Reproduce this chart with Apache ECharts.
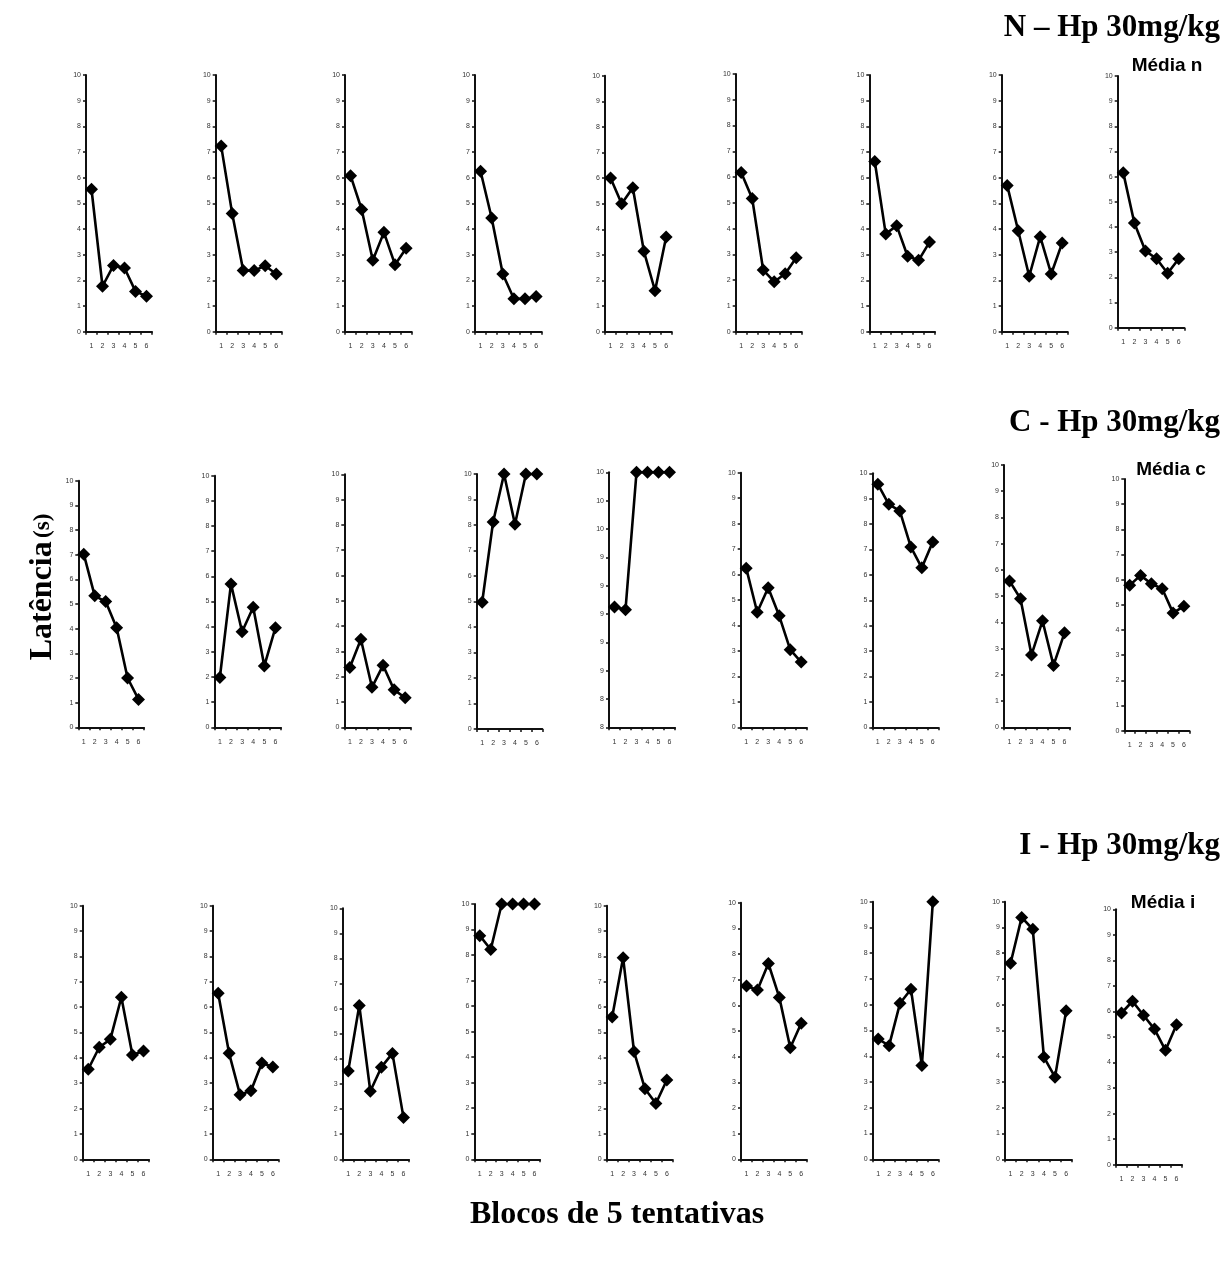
<!DOCTYPE html>
<html>
<head>
<meta charset="utf-8">
<title>Latência - Hp 30mg/kg</title>
<script src="https://cdn.jsdelivr.net/npm/echarts@6/dist/echarts.min.js"></script>
<style>
  html, body { margin: 0; padding: 0; background: #fff; }
  #main { width: 1232px; height: 1262px; }
</style>
</head>
<body>
<div id="main"></div>
<script>
// blocos de 5 tentativas
var blocks = ['1', '2', '3', '4', '5', '6'];

// N - Hp 30mg/kg (8 animais + média)
var nData = [
    [5.55, 1.77, 2.58, 2.48, 1.57, 1.38],
    [7.23, 4.60, 2.38, 2.38, 2.57, 2.25],
    [6.08, 4.76, 2.78, 3.87, 2.61, 3.25],
    [6.25, 4.43, 2.25, 1.28, 1.28, 1.37],
    [6.00, 5.00, 5.62, 3.14, 1.60, 3.70],
    [6.18, 5.17, 2.39, 1.94, 2.25, 2.87],
    [6.63, 3.81, 4.13, 2.94, 2.78, 3.49],
    [5.70, 3.93, 2.16, 3.70, 2.25, 3.46],
    [6.16, 4.16, 3.05, 2.74, 2.16, 2.74]
];

// C - Hp 30mg/kg
var cData = [
    [7.02, 5.33, 5.10, 4.04, 2.00, 1.13],
    [1.98, 5.70, 3.80, 4.77, 2.44, 3.96],
    [2.36, 3.48, 1.58, 2.45, 1.48, 1.17],
    [4.97, 8.12, 10, 8.03, 10, 10],
    [9.05, 9.03, 10, 10, 10, 10],
    [6.25, 4.52, 5.48, 4.38, 3.05, 2.56],
    [9.57, 8.78, 8.52, 7.10, 6.28, 7.30],
    [5.58, 4.90, 2.76, 4.06, 2.36, 3.60],
    [5.78, 6.17, 5.84, 5.64, 4.68, 4.94]
];

// I - Hp 30mg/kg
var iData = [
    [3.55, 4.42, 4.73, 6.39, 4.11, 4.27],
    [6.55, 4.18, 2.55, 2.70, 3.80, 3.64],
    [3.52, 6.13, 2.71, 3.67, 4.22, 1.67],
    [8.76, 8.22, 10, 10, 10, 10],
    [5.61, 7.95, 4.25, 2.78, 2.20, 3.13],
    [6.75, 6.60, 7.63, 6.31, 4.35, 5.30],
    [4.67, 4.41, 6.06, 6.60, 3.64, 10],
    [7.61, 9.39, 8.93, 3.97, 3.19, 5.77],
    [5.94, 6.40, 5.85, 5.31, 4.48, 5.48]
];

// y range of each panel (one panel in row C starts at 8.2)
var yMinC = [0, 0, 0, 0, 8.2, 0, 0, 0, 0];

// panel boxes: [left, top, right, bottom] in px
var frames = [
    [86, 75, 152, 331.7], [215.7, 75, 281.7, 331.7], [345, 75, 411.7, 331.7],
    [475, 75, 541.7, 331.7], [605, 75.7, 671.7, 331.7], [735.7, 74, 801.7, 331.7],
    [869.3, 75, 935, 331.7], [1001.7, 75, 1067.7, 331.7], [1117.7, 76, 1184.3, 327.7],

    [78.3, 480.7, 144, 727.3], [214.3, 475.7, 281, 727.3], [344.3, 474.3, 410.7, 727.3],
    [476.7, 474, 542.3, 729], [609, 472.3, 675, 727.3], [740.7, 472.7, 806.7, 727.3],
    [872.3, 473.3, 938.3, 727.3], [1004, 465, 1070, 727.3], [1124.3, 479, 1189.3, 730.7],

    [82.7, 905.7, 149, 1159.3], [212.7, 905.7, 278.3, 1159.3], [342.7, 908.3, 409, 1159.3],
    [474.3, 904, 540, 1159.3], [606.7, 905.7, 672.3, 1159.3], [741, 902.7, 806.7, 1159.3],
    [872.7, 901.7, 938.3, 1159.3], [1005, 901.7, 1071.7, 1159.3], [1116, 909.3, 1182, 1164.7]
];

var allData = nData.concat(cData, iData);

var grids = [], xAxes = [], yAxes = [], series = [];
allData.forEach(function (vals, k) {
    var f = frames[k];
    var ymin = (k >= 9 && k < 18) ? yMinC[k - 9] : 0;
    grids.push({
        left: f[0], top: f[1], width: f[2] - f[0], height: f[3] - f[1],
        outerBoundsMode: 'none', containLabel: false
    });
    xAxes.push({
        type: 'category', gridIndex: k, data: blocks, boundaryGap: true,
        axisLine: {lineStyle: {color: '#111', width: 2}},
        axisTick: {show: true, length: 3, lineStyle: {color: '#111', width: 1.5}},
        axisLabel: {fontSize: 7, color: '#333', margin: 11, fontFamily: 'Liberation Sans', interval: 0},
        splitLine: {show: false}
    });
    yAxes.push({
        type: 'value', gridIndex: k, min: ymin, max: 10,
        interval: ymin === 0 ? 1 : 0.2,
        axisLine: {show: true, lineStyle: {color: '#111', width: 2}},
        axisTick: {show: true, length: 3, lineStyle: {color: '#111', width: 1.5}},
        axisLabel: {
            fontSize: 7, color: '#333', margin: 5, fontFamily: 'Liberation Sans',
            formatter: function (v) { return String(Math.round(v)); }
        },
        splitLine: {show: false}
    });
    series.push({
        type: 'line', xAxisIndex: k, yAxisIndex: k, data: vals,
        symbol: 'diamond', symbolSize: 13,
        itemStyle: {color: '#000'},
        lineStyle: {color: '#000', width: 2.6},
        animation: false
    });
});

var serif = 'Liberation Serif';
var sans = 'Liberation Sans';
function txt(text, x, y, opts) {
    return {
        type: 'text', x: x, y: y,
        style: Object.assign({
            text: text, fill: '#000', fontFamily: serif, fontWeight: 'bold',
            fontSize: 31, align: 'right', verticalAlign: 'middle'
        }, opts || {})
    };
}

var graphics = [
    txt('N \u2013 Hp 30mg/kg', 1220, 28),
    txt('C - Hp 30mg/kg', 1220, 423),
    txt('I - Hp 30mg/kg', 1220, 846),
    txt('Média n', 1167, 66, {fontFamily: sans, fontSize: 19, align: 'center'}),
    txt('Média c', 1171, 470, {fontFamily: sans, fontSize: 19, align: 'center'}),
    txt('Média i', 1163, 903, {fontFamily: sans, fontSize: 19, align: 'center'}),
    txt('Blocos de 5 tentativas', 617, 1215, {align: 'center', fontSize: 32}),
    {
        type: 'text', x: 43, y: 587, rotation: Math.PI / 2,
        style: {
            text: '{a|Latência} {b|(s)}', align: 'center', verticalAlign: 'middle',
            rich: {
                a: {fontFamily: serif, fontWeight: 'bold', fontSize: 32, fill: '#000'},
                b: {fontFamily: serif, fontWeight: 'bold', fontSize: 23, fill: '#000'}
            }
        }
    }
];

var chart = echarts.init(document.getElementById('main'), null, {renderer: 'canvas'});
chart.setOption({
    animation: false,
    backgroundColor: '#fff',
    grid: grids,
    xAxis: xAxes,
    yAxis: yAxes,
    series: series,
    graphic: graphics
});
</script>
</body>
</html>
